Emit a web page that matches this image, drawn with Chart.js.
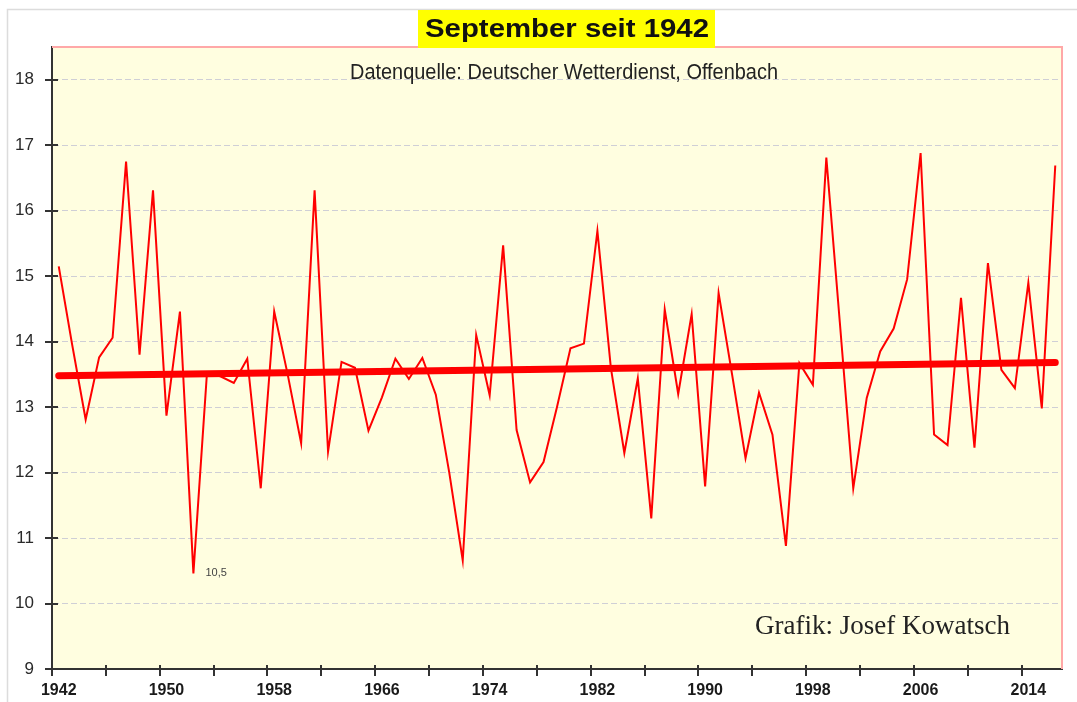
<!DOCTYPE html>
<html>
<head>
<meta charset="utf-8">
<script src="https://cdn.jsdelivr.net/npm/chart.js@4"></script>
<style>
    body { margin: 0; background: #ffffff; }
</style>
</head>
<body>
<canvas id="septChart" width="1077" height="702"></canvas>
<script>
//############################ Data ############################
const years = [
    1942, 1943, 1944, 1945, 1946, 1947, 1948, 1949, 1950, 1951,
    1952, 1953, 1954, 1955, 1956, 1957, 1958, 1959, 1960, 1961,
    1962, 1963, 1964, 1965, 1966, 1967, 1968, 1969, 1970, 1971,
    1972, 1973, 1974, 1975, 1976, 1977, 1978, 1979, 1980, 1981,
    1982, 1983, 1984, 1985, 1986, 1987, 1988, 1989, 1990, 1991,
    1992, 1993, 1994, 1995, 1996, 1997, 1998, 1999, 2000, 2001,
    2002, 2003, 2004, 2005, 2006, 2007, 2008, 2009, 2010, 2011,
    2012, 2013, 2014, 2015, 2016
];

// September mean temperature (°C)
const septTemps = [
    15.15, 13.95, 12.81, 13.76, 14.06, 16.75, 13.80, 16.31, 12.87, 14.46,
    10.46, 13.50, 13.47, 13.37, 13.74, 11.76, 14.46, 13.50, 12.45, 16.31,
    12.32, 13.69, 13.60, 12.64, 13.15, 13.74, 13.43, 13.75, 13.19, 12.00,
    10.66, 14.10, 13.18, 15.47, 12.65, 11.85, 12.16, 13.00, 13.90, 13.97,
    15.69, 13.60, 12.30, 13.44, 11.30, 14.49, 13.20, 14.42, 11.79, 14.74,
    13.50, 12.22, 13.22, 12.58, 10.88, 13.67, 13.34, 16.81, 14.30, 11.76,
    13.14, 13.85, 14.20, 14.95, 16.88, 12.58, 12.42, 14.67, 12.38, 15.20,
    13.57, 13.29, 14.90, 12.98, 16.69
];

// linear trend, read at first and last year
const trendYears = [1942, 2016];
const trendValues = [13.48, 13.68];

const yTicks = [9, 10, 11, 12, 13, 14, 15, 16, 17, 18];

const titleText = 'September seit 1942';
const sourceText = 'Datenquelle: Deutscher Wetterdienst, Offenbach';
const creditText = 'Grafik: Josef Kowatsch';
const minLabelYear = 1952;
const minLabelText = '10,5';

// trend series: only the two end points, line spans the gap
const trendData = years.map(y => {
    const k = trendYears.indexOf(y);
    return k >= 0 ? trendValues[k] : null;
});

// draw text squeezed/stretched to a given width
const fitText = (ctx, text, cx, cy, width) => {
    const w = ctx.measureText(text).width;
    ctx.save();
    ctx.translate(cx, cy);
    ctx.scale(width / w, 1);
    ctx.fillText(text, 0, 0);
    ctx.restore();
};

//############################ Decorations ############################
const decorPlugin = {
    id: 'decor',
    beforeDraw(chart) {
        const ctx = chart.ctx;
        const a = chart.chartArea;
        ctx.save();
        ctx.fillStyle = '#ffffff';
        ctx.fillRect(0, 0, chart.width, chart.height);
        // thin outer frame
        ctx.strokeStyle = '#dcdcdc';
        ctx.lineWidth = 1.5;
        ctx.beginPath();
        ctx.moveTo(7.5, chart.height);
        ctx.lineTo(7.5, 9.5);
        ctx.lineTo(chart.width, 9.5);
        ctx.stroke();
        // plot background
        ctx.fillStyle = '#fffee0';
        ctx.fillRect(a.left, a.top, a.right - a.left, a.bottom - a.top);
        ctx.restore();
    },
    afterDraw(chart) {
        const ctx = chart.ctx;
        const a = chart.chartArea;
        const x = chart.scales.x;
        const y = chart.scales.y;
        ctx.save();

        // pink frame on top and right
        ctx.strokeStyle = '#ffa8a8';
        ctx.lineWidth = 2;
        ctx.beginPath();
        ctx.moveTo(a.left, a.top);
        ctx.lineTo(a.right, a.top);
        ctx.lineTo(a.right, a.bottom);
        ctx.stroke();

        // tick marks
        ctx.strokeStyle = '#333333';
        ctx.lineWidth = 2;
        const step = x.getPixelForValue(1) - x.getPixelForValue(0);
        for (let i = 0; i < years.length; i += 4) {
            const px = Math.round(x.getPixelForValue(i) - step / 2);
            ctx.beginPath();
            ctx.moveTo(px, a.bottom - 4);
            ctx.lineTo(px, a.bottom + 7);
            ctx.stroke();
        }
        yTicks.forEach(v => {
            const py = Math.round(y.getPixelForValue(v));
            ctx.beginPath();
            ctx.moveTo(a.left - 7, py);
            ctx.lineTo(a.left + 6, py);
            ctx.stroke();
        });

        // title with yellow box
        ctx.fillStyle = '#ffff00';
        ctx.fillRect(418, 10, 297, 38);
        ctx.font = 'bold 26px "Liberation Sans", Arial, sans-serif';
        ctx.fillStyle = '#111111';
        ctx.textAlign = 'center';
        ctx.textBaseline = 'middle';
        fitText(ctx, titleText, 567, 30, 284);

        // data source
        ctx.font = '22px "Liberation Sans Narrow", "Arial Narrow", "Liberation Sans", sans-serif';
        ctx.fillStyle = '#222222';
        fitText(ctx, sourceText, 564, 73, 428);

        // credit
        ctx.font = '27px "Liberation Serif", "Times New Roman", serif';
        ctx.textAlign = 'left';
        ctx.textBaseline = 'alphabetic';
        ctx.fillStyle = '#222222';
        ctx.fillText(creditText, 755, 634);

        // minimum label
        const mi = years.indexOf(minLabelYear);
        ctx.font = '11px "Liberation Sans", Arial, sans-serif';
        ctx.fillStyle = '#444444';
        ctx.textBaseline = 'middle';
        ctx.fillText(minLabelText, x.getPixelForValue(mi) + 12, y.getPixelForValue(septTemps[mi]));

        ctx.restore();
    }
};

//############################ Chart ############################
const septChart = new Chart(document.getElementById('septChart'), {
    type: 'line',
    data: {
        labels: years,
        datasets: [
            {
                label: 'Trend',
                data: trendData,
                spanGaps: true,
                borderColor: '#ff0000',
                borderWidth: 7,
                borderCapStyle: 'round',
                pointRadius: 0,
                fill: false,
                order: 0,
            },
            {
                label: 'September',
                data: septTemps,
                borderColor: '#ff0000',
                borderWidth: 2,
                pointRadius: 0,
                tension: 0,
                fill: false,
                order: 1,
            },
        ],
    },
    options: {
        responsive: false,
        animation: false,
        events: [],
        layout: {
            padding: { left: 0, right: 15, top: 47, bottom: 0 },
        },
        plugins: {
            legend: { display: false },
            tooltip: { enabled: false },
        },
        scales: {
            x: {
                type: 'category',
                offset: true,
                grid: { display: false, drawTicks: false },
                border: { display: true, color: '#333333', width: 2 },
                ticks: {
                    autoSkip: false,
                    maxRotation: 0,
                    padding: 12,
                    color: '#1a1a1a',
                    font: { family: '"Liberation Sans", Arial, sans-serif', size: 16, weight: 'bold' },
                    callback: (val, idx) => (idx % 8 === 0 ? years[idx] : ''),
                },
                afterFit: (scale) => { scale.height = 33; },
            },
            y: {
                min: 9,
                max: 18.5,
                grid: {
                    color: '#cfcfd6',
                    lineWidth: 1,
                    drawTicks: false,
                },
                border: { display: true, color: '#333333', width: 2, dash: [6, 3] },
                ticks: {
                    stepSize: 1,
                    includeBounds: false,
                    padding: 18,
                    color: '#2a2a2a',
                    font: { family: '"Liberation Sans", Arial, sans-serif', size: 17 },
                },
                afterFit: (scale) => { scale.width = 52; },
            },
        },
    },
    plugins: [decorPlugin],
});
</script>
</body>
</html>
